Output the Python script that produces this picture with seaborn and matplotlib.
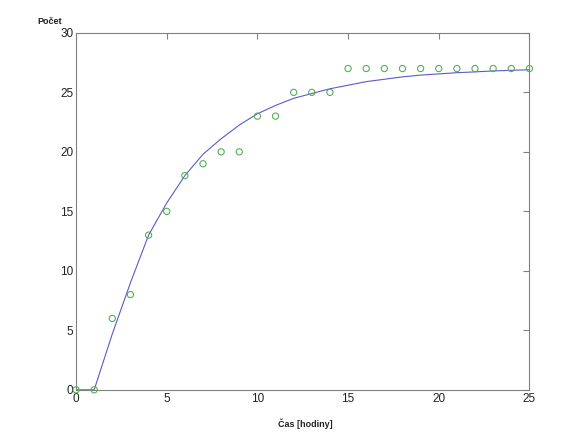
import numpy as np
import pandas as pd
import matplotlib
matplotlib.use("Agg")
import matplotlib.pyplot as plt
import seaborn as sns

# namerane hodnoty
cas = [0, 1, 2, 3, 4, 5, 6, 7, 8, 9, 10, 11, 12, 13, 14, 15, 16, 17, 18, 19, 20, 21, 22, 23, 24, 25]
pocet = [0, 0, 6, 8, 13, 15, 18, 19, 20, 20, 23, 23, 25, 25, 25, 27, 27, 27, 27, 27, 27, 27, 27, 27, 27, 27]

# prolozena krivka
fit_cas = [0, 1, 2, 3, 4, 5, 6, 7, 8, 9, 10, 11, 12, 13, 14, 15, 16, 17, 18, 19, 20, 21, 22, 23, 24, 25]
fit_pocet = [0, 0, 4.7, 9.0, 13.0, 15.7, 18.0, 19.8, 21.1, 22.25, 23.2, 23.9, 24.5, 24.9, 25.3,
             25.6, 25.9, 26.1, 26.3, 26.45, 26.55, 26.65, 26.72, 26.8, 26.85, 26.9]

x_ticks = [0, 5, 10, 15, 20, 25]
y_ticks = [0, 5, 10, 15, 20, 25, 30]

sns.set_style("white")
plt.rcParams['font.family'] = ['Liberation Sans', 'DejaVu Sans']

df_data = pd.DataFrame({'cas': cas, 'pocet': pocet})
df_fit = pd.DataFrame({'cas': fit_cas, 'pocet': fit_pocet})

fig = plt.figure(figsize=(5.85, 4.38), dpi=100)
ax = fig.add_axes([0.13, 0.11, 0.775, 0.815])

sns.lineplot(x='cas', y='pocet', data=df_fit, ax=ax, color='#5a5acd', linewidth=0.8)
sns.scatterplot(x='cas', y='pocet', data=df_data, ax=ax, marker='o', s=20,
                facecolors='none', edgecolor='#55b055', linewidth=0.8, clip_on=False, zorder=3)

ax.set_xlim(0, 25)
ax.set_ylim(0, 30)
ax.set_xticks(x_ticks)
ax.set_yticks(y_ticks)
ax.set_xlabel('')
ax.set_ylabel('')

for s in ax.spines.values():
    s.set_color('#808080')
    s.set_linewidth(0.8)
ax.tick_params(direction='in', length=4, width=0.8, color='#808080',
               labelsize=8.5, labelcolor='#222222', top=True, right=True, pad=2)

fig.text(0.0635, 0.952, 'Počet', fontsize=6.5, fontweight='bold', color='#222222', va='center')
fig.text(0.5214, 0.032, 'Čas [hodiny]', fontsize=6.5, fontweight='bold', color='#222222',
         ha='center', va='center')

fig.savefig('out.png', dpi=100)
